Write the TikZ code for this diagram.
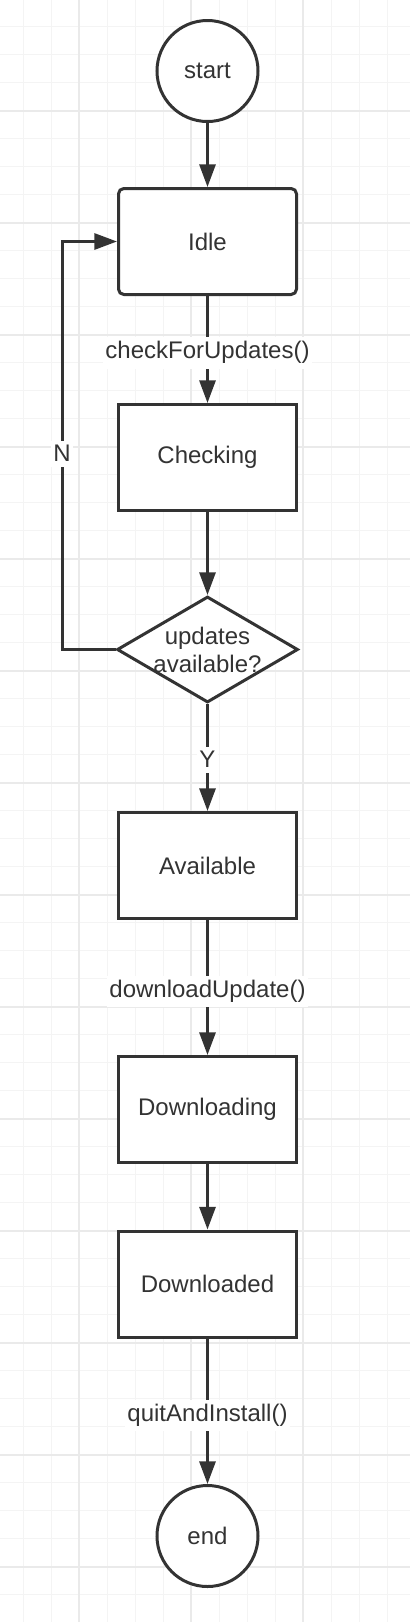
\documentclass[tikz,border=0pt]{standalone}
\usepackage{fontspec}
\setmainfont{Liberation Sans}
\usetikzlibrary{shapes.geometric,arrows.meta}
\definecolor{ink}{HTML}{333333}
\definecolor{gridminor}{HTML}{F4F4F4}
\definecolor{gridmajor}{HTML}{EAEAEA}
\tikzset{
    state/.style={draw=ink, line width=2.25pt, fill=white, minimum width=133.5pt, minimum height=79.5pt, inner sep=0pt},
    terminal/.style={draw=ink, line width=2.25pt, fill=white, circle, minimum size=75.75pt, inner sep=0pt},
    decision/.style={draw=ink, line width=2.25pt, fill=white, diamond, minimum width=135.75pt, minimum height=79.5pt, inner sep=0pt},
    flow/.style={draw=ink, line width=2.25pt, -{Triangle[length=17pt,width=12pt]}},
    lbl/.style={fill=white, inner xsep=2pt, inner ysep=3.5pt},
}
\begin{document}
\begin{tikzpicture}[x=0.75pt, y=-0.75pt, text=ink, font=\fontsize{18pt}{21pt}\selectfont]
    \useasboundingbox[fill=white] (0,0) rectangle (410,1622);
    \foreach \i in {0,...,13} \draw[gridminor, line width=1.1pt] ({23.3+28*\i},0) -- ++(0,1622);
    \foreach \j in {0,...,56} \draw[gridminor, line width=1.1pt] (0,{26.7+28*\j}) -- ++(410,0);
    \foreach \i in {0,1,2} \draw[gridmajor, line width=1.5pt] ({79.3+112*\i},0) -- ++(0,1622);
    \foreach \j in {0,...,13} \draw[gridmajor, line width=1.5pt] (0,{110.7+112*\j}) -- ++(410,0);

    \node[terminal] (start) at (207.5,71) {start};
    \node[state, rounded corners=4pt] (idle) at (207.5,241.5) {Idle};
    \node[state] (checking) at (207.5,457.5) {Checking};
    \node[decision, label={[align=center]center:{updates\\available?}}] (hasupd) at (207.5,649.5) {};
    \node[state] (available) at (207.5,865.5) {Available};
    \node[state] (downloading) at (207.5,1109.5) {Downloading};
    \node[state] (downloaded) at (207.5,1284) {Downloaded};
    \node[terminal] (end) at (207.5,1536) {end};

    \draw[flow] (start) -- (idle);
    \draw[flow] (idle) -- node[lbl, pos=0.53] {checkForUpdates()} (checking);
    \draw[flow] (checking) -- (hasupd);
    \draw[flow] (hasupd) -- node[lbl, pos=0.52] {Y} (available);
    \draw[flow] (hasupd.west) -- ++(-53.5,0) |- node[lbl, pos=0.24] {N} (idle.west);
    \draw[flow] (available) -- node[lbl, pos=0.53] {downloadUpdate()} (downloading);
    \draw[flow] (downloading) -- (downloaded);
    \draw[flow] (downloaded) -- node[lbl, pos=0.53] {quitAndInstall()} (end);
\end{tikzpicture}
\end{document}
